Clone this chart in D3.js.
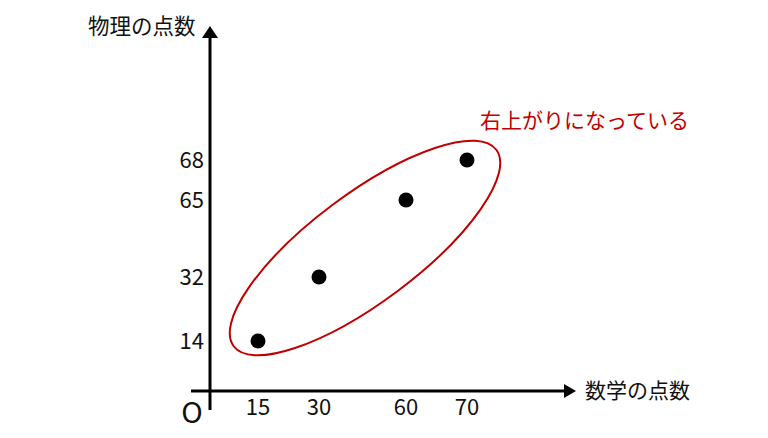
<!DOCTYPE html>
<html><head><meta charset="utf-8">
<script src="https://cdn.jsdelivr.net/npm/d3@7"></script>
<style>body{margin:0;background:#fff}svg{display:block}text{font-family:"Noto Sans CJK JP","Noto Sans",sans-serif}</style>
</head><body>
<script>
const xTicks = [15, 30, 60, 70];
const yTicks = [14, 32, 65, 68];
const mathScores = [15, 30, 60, 70];
const physicsScores = [14, 32, 65, 68];
const xLabel = "数学の点数";
const yLabel = "物理の点数";
const note = "右上がりになっている";

const W = 768, H = 438;
const svg = d3.select("body").append("svg").attr("width", W).attr("height", H);
const ox = 210, oy = 391;
// schematic (non-uniform) axes: piecewise linear scales
const x = d3.scaleLinear().domain([0, 15, 30, 60, 70, 100]).range([ox, 258, 319, 406, 467, 570]);
const y = d3.scaleLinear().domain([0, 14, 32, 65, 68, 100]).range([oy, 341, 277, 200, 160, 30]);

// axes
svg.append("line").attr("x1", 191).attr("x2", 566).attr("y1", oy).attr("y2", oy).attr("stroke", "#000").attr("stroke-width", 3);
svg.append("line").attr("x1", ox).attr("x2", ox).attr("y1", 410).attr("y2", 36).attr("stroke", "#000").attr("stroke-width", 3);
svg.append("path").attr("d", `M${ox},26 L${ox-8},38 L${ox+8},38 Z`).attr("fill", "#000");
svg.append("path").attr("d", `M576,${oy} L564,${oy-7} L564,${oy+7} Z`).attr("fill", "#000");

// tick labels
svg.selectAll(".xt").data(xTicks).join("text").attr("class","xt")
  .attr("x", d => x(d)).attr("y", 415).attr("text-anchor", "middle")
  .attr("font-size", 22).attr("fill", "#111").text(d => d);
svg.selectAll(".yt").data(yTicks).join("text").attr("class","yt")
  .attr("x", 204).attr("y", d => y(d) + 8).attr("text-anchor", "end")
  .attr("font-size", 22).attr("fill", "#111").text(d => d);
svg.append("text").attr("x", 192).attr("y", 423).attr("text-anchor", "middle")
  .attr("font-size", 29).attr("fill", "#111").text("O");

svg.append("text").attr("x", 585).attr("y", 398).attr("font-size", 21).attr("fill", "#111").text(xLabel);
svg.append("text").attr("x", 88).attr("y", 34).attr("font-size", 21.5).attr("fill", "#111").text(yLabel);

// ellipse
svg.append("ellipse").attr("cx", 365).attr("cy", 248).attr("rx", 164).attr("ry", 54)
  .attr("transform", "rotate(-36.8,365,248)")
  .attr("fill", "none").attr("stroke", "#c00000").attr("stroke-width", 2);

// points
svg.selectAll(".pt").data(mathScores.map((m, i) => [m, physicsScores[i]])).join("circle")
  .attr("cx", d => x(d[0])).attr("cy", d => y(d[1])).attr("r", 7.5).attr("fill", "#000");

svg.append("text").attr("x", 480).attr("y", 128).attr("font-size", 21).attr("fill", "#c00000").text(note);
</script>
</body></html>
